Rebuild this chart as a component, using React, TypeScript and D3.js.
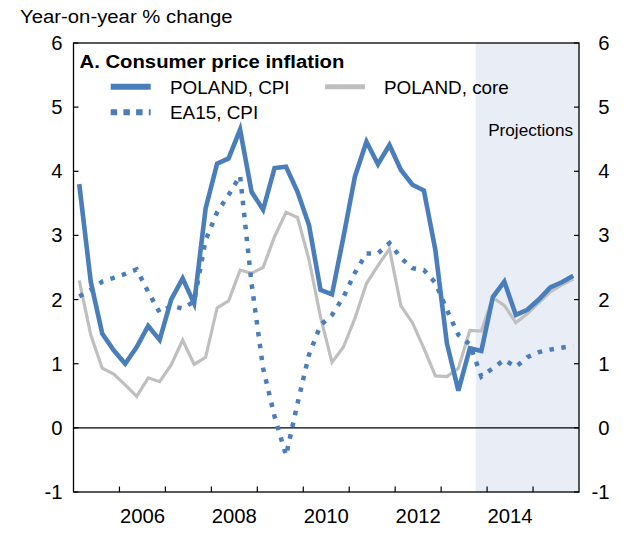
import React from "react";
import * as d3 from "d3";

// Quarterly categories 2005Q1 – 2015Q4
const quarters: string[] = [
  "2005Q1","2005Q2","2005Q3","2005Q4","2006Q1","2006Q2","2006Q3","2006Q4",
  "2007Q1","2007Q2","2007Q3","2007Q4","2008Q1","2008Q2","2008Q3","2008Q4",
  "2009Q1","2009Q2","2009Q3","2009Q4","2010Q1","2010Q2","2010Q3","2010Q4",
  "2011Q1","2011Q2","2011Q3","2011Q4","2012Q1","2012Q2","2012Q3","2012Q4",
  "2013Q1","2013Q2","2013Q3","2013Q4","2014Q1","2014Q2","2014Q3","2014Q4",
  "2015Q1","2015Q2","2015Q3","2015Q4",
];

const polandCpi: number[] = [
  3.8, 2.28, 1.47, 1.21, 1.0, 1.26, 1.59, 1.37, 2.0, 2.33, 1.94, 3.42,
  4.12, 4.2, 4.65, 3.68, 3.4, 4.05, 4.07, 3.68, 3.16, 2.15, 2.08, 2.98,
  3.92, 4.46, 4.11, 4.41, 4.02, 3.79, 3.7, 2.77, 1.32, 0.58, 1.24, 1.2,
  2.04, 2.28, 1.76, 1.84, 2.0, 2.19, 2.27, 2.37,
];

const polandCore: number[] = [
  2.3, 1.45, 0.93, 0.84, 0.67, 0.49, 0.78, 0.72, 0.98, 1.37, 0.99, 1.1,
  1.87, 1.98, 2.46, 2.41, 2.5, 2.98, 3.36, 3.28, 2.62, 1.73, 1.02, 1.26,
  1.71, 2.25, 2.53, 2.79, 1.9, 1.64, 1.24, 0.81, 0.8, 0.93, 1.52, 1.51,
  2.03, 1.91, 1.64, 1.78, 1.95, 2.12, 2.23, 2.32,
];

const ea15Cpi: number[] = [
  2.05, 2.15, 2.28, 2.34, 2.4, 2.47, 2.12, 1.8, 1.9, 1.86, 1.97, 2.93,
  3.36, 3.63, 3.93, 2.25, 0.93, 0.18, -0.43, 0.38, 1.14, 1.6, 1.76, 2.04,
  2.42, 2.72, 2.72, 2.88, 2.65, 2.49, 2.46, 2.26, 1.84, 1.45, 1.3, 0.8,
  0.93, 1.06, 0.95, 1.1, 1.18, 1.22, 1.25, 1.28,
];

const xTickYears: number[] = [2006, 2007, 2008, 2009, 2010, 2011, 2012, 2013, 2014, 2015];
const xLabelYears: string[] = ["2006", "2008", "2010", "2012", "2014"];
const yTicks: number[] = [-1, 0, 1, 2, 3, 4, 5, 6];
const xDomain: [number, number] = [2005, 2016];
const yDomain: [number, number] = [-1, 6];
const projectionStart = "2013Q4";

const title = "A. Consumer price inflation";
const yAxisTitle = "Year-on-year % change";
const projectionLabel = "Projections";
const seriesNames = ["POLAND, CPI", "POLAND, core", "EA15, CPI"];

const BLUE = "#4A7EBB";
const GRAY = "#BFBFBF";
const SHADE = "#E9EDF6";
const FONT = "'Liberation Sans', Arial, sans-serif";

const qToT = (q: string) => {
  const yr = +q.slice(0, 4);
  const n = +q.slice(5);
  return yr + (n - 0.5) / 4;
};
const qStart = (q: string) => +q.slice(0, 4) + (+q.slice(5) - 1) / 4;

type TxtProps = {
  x: number; y: number; sx?: number; size: number; anchor?: string; weight?: string; children: React.ReactNode;
};
const Txt = ({ x, y, sx = 1.05, size, anchor = "start", weight = "normal", children }: TxtProps) => (
  <text
    transform={`translate(${x},${y}) scale(${sx},1)`}
    fontSize={size}
    fontWeight={weight}
    textAnchor={anchor}
    fontFamily={FONT}
    fill="#000"
  >
    {children}
  </text>
);

export default function App() {
  const left = 73.5, right = 579, top = 43, bottom = 492;
  const x = d3.scaleLinear().domain(xDomain).range([left, right]);
  const y = d3.scaleLinear().domain(yDomain).range([bottom, top]);

  const mk = (vals: number[]) =>
    d3.line<number>()
      .x((_, i) => x(qToT(quarters[i])))
      .y((v) => y(v))(vals) || "";

  const shadeX = x(qStart(projectionStart));

  return (
    <svg
      width={630}
      height={546}
      style={{ position: "absolute", left: 0, top: 0, background: "#fff" }}
    >
      <rect x={0} y={0} width={630} height={546} fill="#fff" />
      <rect x={shadeX} y={top} width={right - shadeX} height={bottom - top} fill={SHADE} />

      {/* zero line */}
      <line x1={left} x2={right} y1={y(0)} y2={y(0)} stroke="#000" strokeWidth={1.3} />

      {/* series */}
      <path d={mk(polandCore)} fill="none" stroke={GRAY} strokeWidth={3.2} strokeLinejoin="miter" />
      <path d={mk(ea15Cpi)} fill="none" stroke={BLUE} strokeWidth={4.5} strokeDasharray="4.5,7.5" />
      <path d={mk(polandCpi)} fill="none" stroke={BLUE} strokeWidth={4.6} strokeLinejoin="miter" />

      {/* frame */}
      <rect x={left} y={top} width={right - left} height={bottom - top} fill="none" stroke="#000" strokeWidth={1.3} />

      {/* y ticks both sides */}
      {yTicks.map((t) => (
        <g key={"yt" + t}>
          <line x1={left} x2={left + 5} y1={y(t)} y2={y(t)} stroke="#000" strokeWidth={1.2} />
          <line x1={right - 5} x2={right} y1={y(t)} y2={y(t)} stroke="#000" strokeWidth={1.2} />
          <Txt x={62.5} y={y(t) + 7} size={19.5} anchor="end" sx={1.04}>{String(t)}</Txt>
          <Txt x={609.5} y={y(t) + 7} size={19.5} anchor="end" sx={1.04}>{String(t)}</Txt>
        </g>
      ))}

      {/* x ticks */}
      {xTickYears.map((t) => (
        <line key={"xt" + t} x1={x(t)} x2={x(t)} y1={bottom} y2={bottom - 5.5} stroke="#000" strokeWidth={1.2} />
      ))}
      {xLabelYears.map((lab) => (
        <Txt key={"xl" + lab} x={x(+lab + 0.5)} y={523} size={19.5} anchor="middle" sx={1.04}>{lab}</Txt>
      ))}

      {/* axis title */}
      <Txt x={20} y={23} size={19} sx={1.07}>{yAxisTitle}</Txt>

      {/* panel title */}
      <Txt x={79.5} y={67.5} size={18.8} weight="bold" sx={1.08}>{title}</Txt>

      {/* legend */}
      <line x1={110.7} x2={150.7} y1={86.7} y2={86.7} stroke={BLUE} strokeWidth={6} />
      <Txt x={170} y={93.5} size={18} sx={1.05}>{seriesNames[0]}</Txt>
      <line x1={325} x2={365} y1={86.7} y2={86.7} stroke={GRAY} strokeWidth={5} />
      <Txt x={384} y={93.5} size={18} sx={1.05}>{seriesNames[1]}</Txt>
      <line x1={110.7} x2={150.7} y1={112.3} y2={112.3} stroke={BLUE} strokeWidth={6} strokeDasharray="6.5,6.2" />
      <Txt x={170} y={119} size={18} sx={1.05}>{seriesNames[2]}</Txt>

      {/* projections label */}
      <Txt x={573} y={136} size={16.5} anchor="end" sx={1.04}>{projectionLabel}</Txt>
    </svg>
  );
}
